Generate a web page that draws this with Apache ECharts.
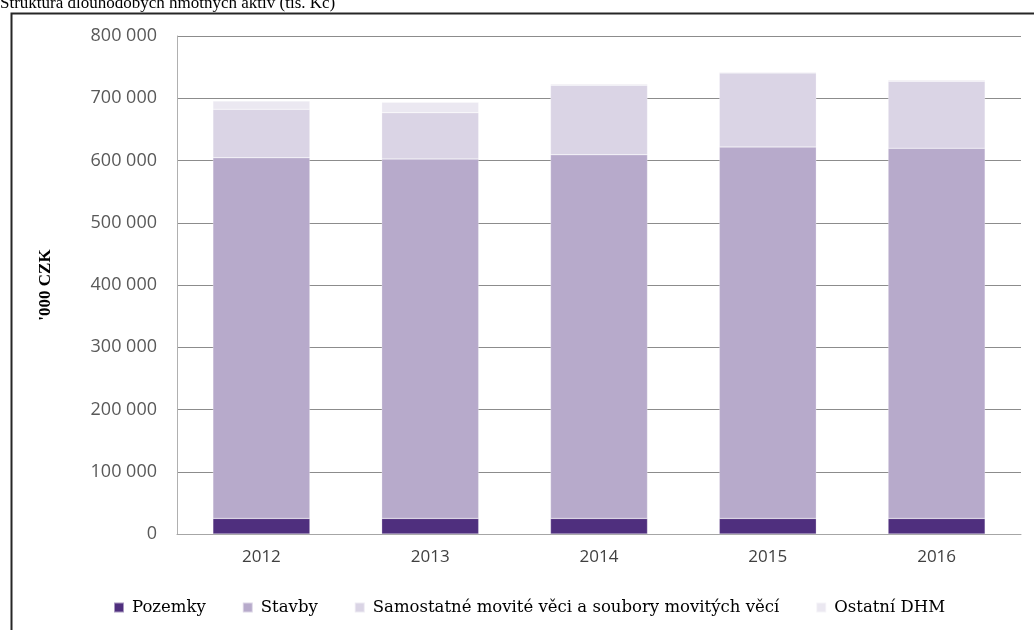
<!DOCTYPE html>
<html>
<head>
<meta charset="utf-8">
<script src="https://cdn.jsdelivr.net/npm/echarts@6/dist/echarts.min.js"></script>
<style>
  html, body { margin: 0; padding: 0; background: #fff; }
  #chart { width: 1034px; height: 630px; }
</style>
</head>
<body>
<div id="chart"></div>
<script>
// Long-term tangible assets by year, in thousands of CZK (stacked)
const years = ['2012', '2013', '2014', '2015', '2016'];
const pozemky = [25000, 25000, 25000, 25000, 25000];
const stavby = [579500, 577400, 584300, 596700, 594600];
const samostatne = [77800, 74400, 111600, 119000, 107700];
const ostatni = [13400, 16800, 2100, 1600, 2100];
const yTicks = [0, 100000, 200000, 300000, 400000, 500000, 600000, 700000, 800000];

const seriesNames = ['Pozemky', 'Stavby', 'Samostatné movité věci a soubory movitých věcí', 'Ostatní DHM'];
const seriesColors = ['#4f2f7e', '#b7aacb', '#dad4e5', '#ebe8f1'];
const seriesData = [pozemky, stavby, samostatne, ostatni];

const fmt = v => String(v).replace(/\B(?=(\d{3})+(?!\d))/g, ' ');

const chart = echarts.init(document.getElementById('chart'), null, { renderer: 'canvas' });
chart.setOption({
  animation: false,
  backgroundColor: '#fff',
  title: {
    text: 'Struktura dlouhodobých hmotných aktiv (tis. Kč)',
    left: 0, top: -5, padding: 0,
    textStyle: { fontFamily: 'Liberation Serif', fontSize: 17, fontWeight: 'normal', color: '#000' }
  },
  graphic: [{
    type: 'rect', left: 9, top: 11, z: -1,
    shape: { width: 1040, height: 640 },
    style: { fill: 'none', stroke: '#262626', lineWidth: 2 }
  }],
  grid: { left: 177, right: 13, top: 36, bottom: 96 },
  legend: {
    left: 108, top: 594,
    itemWidth: 10, itemHeight: 10, itemGap: 36,
    icon: 'rect',
    textStyle: { fontFamily: 'DejaVu Serif', fontSize: 16.5, color: '#000', padding: [0, 0, 0, 3] },
    data: seriesNames
  },
  xAxis: {
    type: 'category', data: years,
    axisLine: { lineStyle: { color: '#a6a6a6', width: 1 } },
    axisTick: { show: false },
    axisLabel: { fontFamily: 'Open Sans', fontSize: 17, color: '#404040', margin: 15 }
  },
  yAxis: {
    type: 'value', min: 0, max: 800000, interval: 100000,
    name: "'000 CZK", nameLocation: 'middle', nameGap: 123, nameRotate: 90,
    nameTextStyle: { fontFamily: 'Liberation Serif', fontSize: 17, fontWeight: 'bold', color: '#000' },
    axisLine: { show: true, lineStyle: { color: '#b0b0b0' } },
    axisTick: { show: false },
    axisLabel: {
      fontFamily: 'Open Sans', fontSize: 18, color: '#595959', margin: 20,
      formatter: v => yTicks.includes(v) ? fmt(v) : ''
    },
    splitLine: { lineStyle: { color: '#8c8c8c', width: 1 } }
  },
  series: seriesData.map((d, i) => ({
    name: seriesNames[i], type: 'bar', stack: 'total',
    data: d, barWidth: 97,
    itemStyle: { color: seriesColors[i], borderColor: 'rgba(255,255,255,0.5)', borderWidth: 0.5 }
  }))
});
</script>
</body>
</html>
